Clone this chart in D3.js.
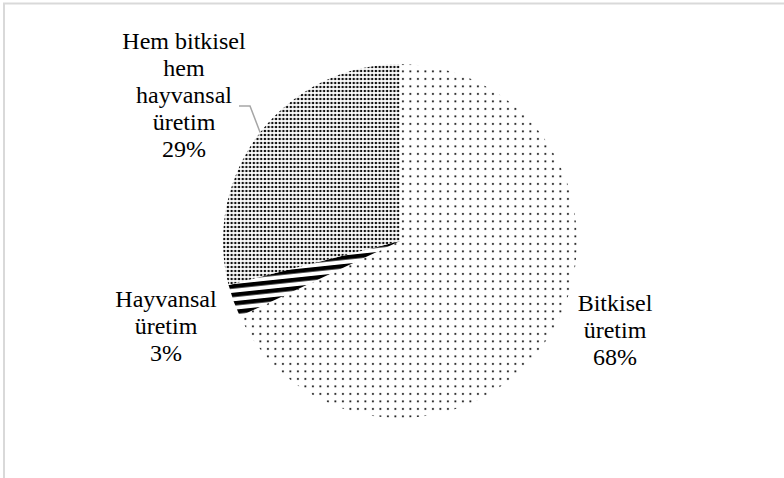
<!DOCTYPE html>
<html>
<head>
<meta charset="utf-8">
<script src="https://cdn.jsdelivr.net/npm/d3@7"></script>
<style>
  body { margin: 0; background: #fff; }
  svg { display: block; }
</style>
</head>
<body>
<svg id="chart" width="784" height="478"></svg>
<script>
// data
const categories = ["Bitkisel üretim", "Hayvansal üretim", "Hem bitkisel hem hayvansal üretim"];
const values = [68, 3, 29];
const patterns = ["sparse", "stripes", "dense"];

// label lines, as they are broken in the picture
const labelLines = [
  ["Bitkisel", "üretim", "68%"],
  ["Hayvansal", "üretim", "3%"],
  ["Hem bitkisel", "hem", "hayvansal", "üretim", "29%"]
];

const width = 784, height = 478;
const cx = 400, cy = 241, radius = 177;
const lineHeight = 27;

// where each label block sits (center x, first baseline)
const labelPos = [
  {x: 615, y: 311},
  {x: 166, y: 307},
  {x: 184, y: 49}
];

const svg = d3.select("#chart");

// light frame round the chart area
svg.append("rect")
  .attr("x", 4)
  .attr("y", 3.5)
  .attr("width", 900)
  .attr("height", 600)
  .attr("fill", "none")
  .attr("stroke", "#d9d9d9")
  .attr("stroke-width", 2);

/* PATTERNS */
const defs = svg.append("defs");

let sparse = defs.append("pattern")
  .attr("id", "sparse")
  .attr("patternUnits", "userSpaceOnUse")
  .attr("width", 7.5)
  .attr("height", 7.5);
sparse.append("rect").attr("width", 7.5).attr("height", 7.5).attr("fill", "#fff");
sparse.append("rect").attr("x", 2).attr("y", 2).attr("width", 1.8).attr("height", 1.8).attr("fill", "#111");

let dense = defs.append("pattern")
  .attr("id", "dense")
  .attr("patternUnits", "userSpaceOnUse")
  .attr("width", 3.7)
  .attr("height", 4);
dense.append("rect").attr("width", 3.7).attr("height", 4).attr("fill", "#fff");
dense.append("rect").attr("x", 0.7).attr("y", 0.9).attr("width", 2.2).attr("height", 2.2).attr("fill", "#111");

let stripes = defs.append("pattern")
  .attr("id", "stripes")
  .attr("patternUnits", "userSpaceOnUse")
  .attr("width", 20)
  .attr("height", 8.5)
  .attr("patternTransform", "rotate(-6)");
stripes.append("rect").attr("width", 20).attr("height", 8.5).attr("fill", "#fff");
stripes.append("rect").attr("y", 0).attr("width", 20).attr("height", 4.4).attr("fill", "#000");

/* PIE */
const pie = d3.pie().sort(null).value(d => d)(values);
const arc = d3.arc().innerRadius(0).outerRadius(radius);

const g = svg.append("g").attr("transform", `translate(${cx},${cy})`);

g.selectAll("path.slice")
  .data(pie)
  .enter()
  .append("path")
  .attr("class", "slice")
  .attr("d", arc)
  .attr("fill", (d, i) => `url(#${patterns[i]})`);

// leader line for the top-left label, to the middle of its slice
const hem = pie[2];
const midAngle = (hem.startAngle + hem.endAngle) / 2;
const ex = cx + radius * Math.sin(midAngle);
const ey = cy - radius * Math.cos(midAngle);
svg.append("polyline")
  .attr("points", [[239, 106], [250, 106], [ex, ey]].map(p => p.join(",")).join(" "))
  .attr("fill", "none")
  .attr("stroke", "#a6a6a6")
  .attr("stroke-width", 1.5);

/* LABELS */
labelLines.forEach((lines, i) => {
  let t = svg.append("text")
    .attr("text-anchor", "middle")
    .attr("font-family", "Liberation Serif, Times New Roman, Times, DejaVu Serif, serif")
    .attr("font-size", 24)
    .attr("fill", "#000");
  lines.forEach((line, j) => {
    t.append("tspan")
      .attr("x", labelPos[i].x)
      .attr("y", labelPos[i].y + lineHeight * j)
      .text(line);
  });
});
</script>
</body>
</html>
